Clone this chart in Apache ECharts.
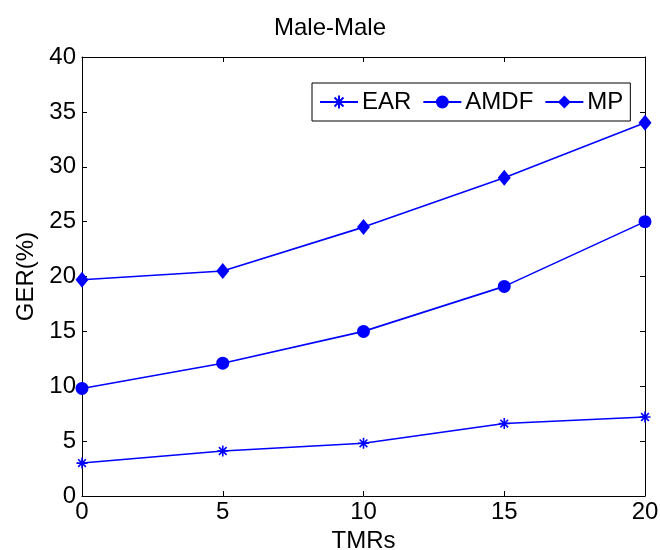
<!DOCTYPE html>
<html>
<head>
<meta charset="utf-8">
<title>Male-Male</title>
<script src="https://cdn.jsdelivr.net/npm/echarts@6/dist/echarts.min.js"></script>
<style>
  html, body { margin: 0; padding: 0; background: #ffffff; }
  #chart { width: 660px; height: 550px; }
</style>
</head>
<body>
<div id="chart"></div>
<script>
// TMR values on the x axis
const tmrs = [0, 5, 10, 15, 20];
// GER (%) for each method
const earValues  = [3.0, 4.1, 4.8, 6.6, 7.2];
const amdfValues = [9.8, 12.1, 15.0, 19.1, 25.0];
const mpValues   = [19.7, 20.5, 24.5, 29.0, 34.0];
const seriesNames = ['EAR', 'AMDF', 'MP'];

const FONT = 'Liberation Sans, Arial, Helvetica, sans-serif';
const BLUE = '#0000ff';

// asterisk marker made of stroked segments
const asterisk = 'path://M0 5 L10 5 M5 0 L5 10 M1.5 1.5 L8.5 8.5 M8.5 1.5 L1.5 8.5';

const pairs = vals => tmrs.map((t, i) => [t, vals[i]]);

const tickStyle = { show: true, inside: true, length: 5, lineStyle: { color: '#000', width: 1 } };
const lineAxis = { show: true, onZero: false, lineStyle: { color: '#000', width: 1 } };

const chart = echarts.init(document.getElementById('chart'), null, { renderer: 'canvas' });

chart.setOption({
  backgroundColor: '#ffffff',
  animation: false,
  title: {
    text: 'Male-Male',
    left: 'center',
    top: 11,
    textStyle: { fontFamily: FONT, fontSize: 24, fontWeight: 'normal', color: '#000' }
  },
  legend: {
    data: seriesNames,
    left: 312,
    top: 83,
    orient: 'horizontal',
    itemWidth: 38,
    itemHeight: 16,
    itemGap: 11,
    padding: [7, 7, 7, 7],
    borderColor: '#000',
    borderWidth: 1,
    borderRadius: 0,
    backgroundColor: '#fff',
    textStyle: { fontFamily: FONT, fontSize: 24, color: '#000', padding: [0, 0, 0, -1] }
  },
  grid: { left: 82, right: 15, top: 57, bottom: 54, containLabel: false, outerBoundsMode: 'none' },
  xAxis: [
    {
      type: 'value', min: 0, max: 20, interval: 5,
      name: 'TMRs', nameLocation: 'middle', nameGap: 27,
      nameTextStyle: { fontFamily: FONT, fontSize: 24, color: '#000' },
      axisLine: lineAxis, axisTick: tickStyle,
      axisLabel: { fontFamily: FONT, fontSize: 24, color: '#000', margin: 4 },
      splitLine: { show: false }
    },
    {
      type: 'value', min: 0, max: 20, interval: 5, position: 'top',
      axisLine: lineAxis, axisTick: tickStyle,
      axisLabel: { show: false }, splitLine: { show: false }
    }
  ],
  yAxis: [
    {
      type: 'value', min: 0, max: 40, interval: 5,
      name: 'GER(%)', nameLocation: 'middle', nameGap: 44,
      nameTextStyle: { fontFamily: FONT, fontSize: 24, color: '#000' },
      axisLine: lineAxis, axisTick: tickStyle,
      axisLabel: { fontFamily: FONT, fontSize: 24, color: '#000', margin: 6 },
      splitLine: { show: false }
    },
    {
      type: 'value', min: 0, max: 40, interval: 5, position: 'right',
      axisLine: lineAxis, axisTick: tickStyle,
      axisLabel: { show: false }, splitLine: { show: false }
    }
  ],
  series: [
    {
      name: 'EAR', type: 'line', data: pairs(earValues),
      symbol: asterisk, symbolSize: 11,
      lineStyle: { color: BLUE, width: 1.6 },
      itemStyle: { color: 'none', borderColor: BLUE, borderWidth: 1.6 }
    },
    {
      name: 'AMDF', type: 'line', data: pairs(amdfValues),
      symbol: 'circle', symbolSize: 13,
      lineStyle: { color: BLUE, width: 1.6 },
      itemStyle: { color: BLUE, borderWidth: 0 }
    },
    {
      name: 'MP', type: 'line', data: pairs(mpValues),
      symbol: 'diamond', symbolSize: [13, 16],
      lineStyle: { color: BLUE, width: 1.6 },
      itemStyle: { color: BLUE, borderWidth: 0 }
    }
  ]
});
</script>
</body>
</html>
